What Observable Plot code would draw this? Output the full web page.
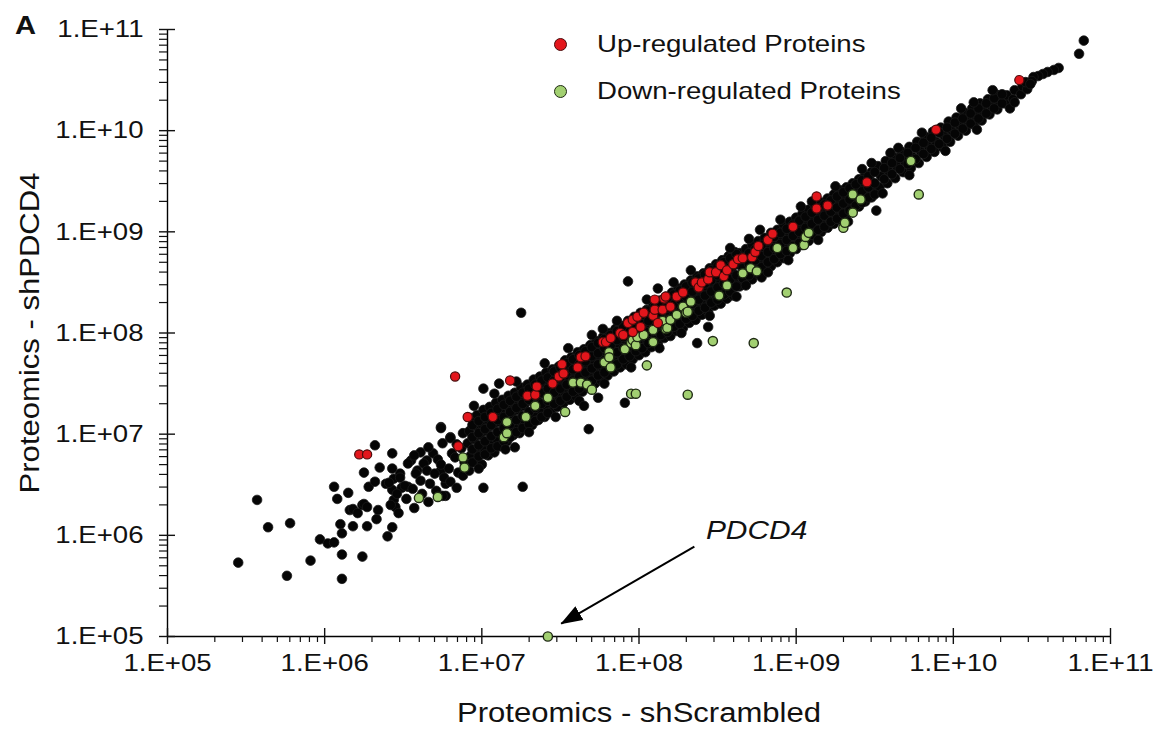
<!DOCTYPE html>
<html><head><meta charset="utf-8">
<script src="https://cdn.jsdelivr.net/npm/d3@7"></script>
<script src="https://cdn.jsdelivr.net/npm/@observablehq/plot@0.6"></script>
<style>
html,body{margin:0;padding:0;background:#fff;}
#wrap{position:relative;width:1164px;height:735px;font-family:"Liberation Sans",Arial,sans-serif;color:#111;}
.legrow{position:absolute;display:flex;align-items:center;height:24px;}
.sw{display:inline-block;border-radius:50%;box-sizing:border-box;}
</style></head>
<body><div id="wrap"></div>
<script>
// ---- Axis ticks ----
const decades = [1e5, 1e6, 1e7, 1e8, 1e9, 1e10, 1e11];
const tickLabels = ["1.E+05", "1.E+06", "1.E+07", "1.E+08", "1.E+09", "1.E+10", "1.E+11"];
const minorMultipliers = [2, 3, 4, 5, 6, 7, 8, 9];
const xTitle = "Proteomics - shScrambled";
const yTitle = "Proteomics - shPDCD4";
const panelLetter = "A";
const legendLabels = ["Up-regulated Proteins", "Down-regulated Proteins"];
const legendColors = ["#e3161c", "#a2d071"];
const legendStrokes = ["#4a0c0c", "#1f2a14"];

// ---- Data: [log10(shScrambled), log10(shPDCD4)] ----
const blackLowTail = [
[5.45,5.73],[5.57,6.35],[5.64,6.08],[5.76,5.60],[5.78,6.12],[5.91,5.75],[5.97,5.96],[6.02,5.92],[6.06,5.93],[6.06,6.48],
[6.08,6.36],[6.10,6.11],[6.11,6.02],[6.11,5.81],[6.11,5.57],[6.15,6.42],[6.16,6.25],[6.18,6.09],[6.18,6.26],[6.21,6.22],
[6.24,5.79],[6.24,6.30],[6.25,6.31],[6.25,6.62],[6.27,6.09],[6.27,6.28],[6.28,6.48],[6.32,6.89],[6.32,6.53],[6.33,6.16],
[6.34,6.25],[6.35,6.67],[6.39,6.51],[6.40,5.99],[6.43,6.08],[6.43,6.81],[6.43,6.45],[6.44,6.56],[6.44,6.35],[6.45,6.28],
[6.48,6.61],[6.49,6.47],[6.53,6.48],[6.55,6.74],[6.59,6.64],[6.61,6.82],[6.65,6.74],[6.69,6.81],[6.74,7.07],[6.74,6.64],
[6.77,6.51],[6.77,6.39],[6.80,6.97],[7.01,6.47],[7.01,7.45]
];
const blackBandLow = [
[6.42,6.30],[6.41,6.52],[6.43,6.66],[6.47,6.22],[6.46,6.41],[6.48,6.57],[6.52,6.36],[6.51,6.49],[6.53,6.71],
[6.57,6.27],[6.56,6.46],[6.58,6.61],[6.57,6.79],[6.62,6.41],[6.61,6.54],[6.63,6.71],[6.66,6.33],[6.67,6.51],[6.65,6.64],[6.66,6.87],
[6.71,6.44],[6.70,6.61],[6.72,6.75],[6.75,6.39],[6.76,6.57],[6.74,6.70],[6.75,6.91],[6.80,6.53],[6.79,6.66],[6.81,6.81],[6.80,6.96],
[6.84,6.47],[6.85,6.62],[6.83,6.77],[6.84,6.90],[6.88,6.59],[6.89,6.72],[6.87,6.86],[6.88,7.01],
[6.92,6.64],[6.93,6.79],[6.91,6.91],[6.92,7.03],[6.93,7.16],[6.96,6.73],[6.97,6.83],[6.95,6.95],[6.96,7.08],[6.97,7.19],
[7.00,6.70],[7.01,6.87],[6.99,6.99],[7.00,7.10],[7.01,7.24],[7.04,6.79],[7.05,6.92],[7.03,7.03],[7.04,7.14],[7.05,7.27],
[7.08,6.82],[7.09,6.96],[7.07,7.08],[7.08,7.20],[7.09,7.31],[7.12,6.88],[7.13,7.01],[7.11,7.12],[7.12,7.23],[7.13,7.34],
[7.16,6.93],[7.17,7.04],[7.15,7.16],[7.16,7.28],[7.17,7.38],[7.20,6.99],[7.21,7.09],[7.19,7.20],[7.20,7.31],[7.21,7.41],
[7.24,7.01],[7.25,7.12],[7.23,7.24],[7.24,7.36],[7.25,7.46],[7.28,7.06],[7.29,7.17],[7.27,7.28],[7.28,7.39],[7.29,7.49],
[7.32,7.09],[7.33,7.20],[7.31,7.33],[7.32,7.44],[7.33,7.54],[7.36,7.14],[7.37,7.25],[7.35,7.36],[7.36,7.47],[7.37,7.57],
[7.40,7.17],[7.41,7.28],[7.39,7.40],[7.40,7.51],[7.41,7.61]
];
const blackBandMid = [
[7.44,7.22],[7.45,7.33],[7.43,7.45],[7.44,7.55],[7.45,7.64],[7.48,7.27],[7.49,7.37],[7.47,7.49],[7.48,7.60],[7.49,7.67],
[7.52,7.31],[7.53,7.41],[7.51,7.53],[7.52,7.64],[7.53,7.73],[7.56,7.34],[7.57,7.45],[7.55,7.57],[7.56,7.67],[7.57,7.76],
[7.60,7.37],[7.61,7.49],[7.59,7.61],[7.60,7.72],[7.61,7.81],[7.64,7.42],[7.65,7.53],[7.63,7.65],[7.64,7.75],[7.65,7.84],
[7.68,7.46],[7.69,7.57],[7.67,7.69],[7.68,7.80],[7.69,7.88],[7.72,7.50],[7.73,7.61],[7.71,7.73],[7.72,7.84],[7.73,7.92],
[7.76,7.53],[7.77,7.65],[7.75,7.77],[7.76,7.88],[7.77,7.96],[7.80,7.58],[7.81,7.69],[7.79,7.81],[7.80,7.91],[7.81,8.00],
[7.84,7.62],[7.85,7.73],[7.83,7.85],[7.84,7.96],[7.85,8.04],[7.88,7.66],[7.89,7.77],[7.87,7.89],[7.88,7.99],[7.89,8.07],
[7.92,7.69],[7.93,7.81],[7.91,7.93],[7.92,8.04],[7.93,8.12],[7.96,7.74],[7.97,7.85],[7.95,7.97],[7.96,8.07],[7.97,8.16],
[8.00,7.78],[8.01,7.89],[7.99,8.01],[8.00,8.12],[8.01,8.20],[8.04,7.81],[8.05,7.93],[8.03,8.05],[8.04,8.15],[8.05,8.23],
[8.08,7.86],[8.09,7.97],[8.07,8.09],[8.08,8.20],[8.09,8.28],[8.12,7.89],[8.13,8.01],[8.11,8.13],[8.12,8.23],[8.13,8.32],
[8.16,7.95],[8.17,8.05],[8.15,8.17],[8.16,8.28],[8.17,8.36],[8.20,7.97],[8.21,8.09],[8.19,8.21],[8.20,8.31],[8.21,8.40],
[8.24,8.02],[8.25,8.13],[8.23,8.25],[8.24,8.36],[8.25,8.44],[8.28,8.05],[8.29,8.17],[8.27,8.29],[8.28,8.39],[8.29,8.48],
[8.32,8.10],[8.33,8.21],[8.31,8.33],[8.32,8.44],[8.33,8.52],[8.36,8.13],[8.37,8.25],[8.35,8.37],[8.36,8.47],[8.37,8.56],
[8.40,8.18],[8.41,8.29],[8.39,8.41],[8.40,8.52],[8.41,8.59],[8.44,8.21],[8.45,8.33],[8.43,8.45],[8.44,8.55],[8.45,8.64],
[8.48,8.27],[8.49,8.37],[8.47,8.49],[8.48,8.60],[8.49,8.68],[8.52,8.29],[8.53,8.41],[8.51,8.53],[8.52,8.63],[8.53,8.72],
[8.56,8.34],[8.57,8.45],[8.55,8.57],[8.56,8.68],[8.57,8.76],[8.60,8.37],[8.61,8.49],[8.59,8.61],[8.60,8.71],[8.61,8.80]
];
const blackBandHigh = [
[8.64,8.46],[8.65,8.57],[8.63,8.68],[8.64,8.79],[8.68,8.50],[8.69,8.61],[8.67,8.72],[8.68,8.83],
[8.72,8.53],[8.73,8.65],[8.71,8.75],[8.72,8.87],[8.76,8.58],[8.77,8.69],[8.75,8.80],[8.76,8.91],
[8.80,8.62],[8.81,8.73],[8.79,8.84],[8.80,8.94],[8.84,8.66],[8.85,8.77],[8.83,8.87],[8.84,8.99],
[8.88,8.70],[8.89,8.81],[8.87,8.92],[8.88,9.02],[8.92,8.74],[8.93,8.85],[8.91,8.95],[8.92,9.07],
[8.96,8.79],[8.97,8.89],[8.95,9.00],[8.96,9.10],[9.00,8.83],[9.01,8.93],[8.99,9.04],[9.00,9.14],
[9.04,8.87],[9.05,8.97],[9.03,9.08],[9.04,9.18],[9.08,8.91],[9.09,9.01],[9.07,9.12],[9.08,9.22],
[9.12,8.96],[9.13,9.05],[9.11,9.15],[9.12,9.25],[9.16,9.00],[9.17,9.09],[9.15,9.19],[9.16,9.29],
[9.20,9.04],[9.21,9.13],[9.19,9.23],[9.20,9.33],[9.24,9.08],[9.25,9.17],[9.23,9.27],[9.24,9.37],
[9.28,9.12],[9.29,9.21],[9.27,9.31],[9.28,9.41],[9.32,9.17],[9.33,9.26],[9.31,9.35],[9.32,9.44],
[9.36,9.21],[9.37,9.30],[9.35,9.39],[9.36,9.48],[9.40,9.25],[9.41,9.34],[9.39,9.43],[9.40,9.52],
[9.44,9.30],[9.45,9.38],[9.43,9.47],[9.44,9.56],[9.48,9.34],[9.49,9.42],[9.47,9.51],[9.48,9.59],
[9.53,9.44],[9.54,9.55],[9.52,9.65],[9.58,9.48],[9.59,9.60],[9.57,9.70],[9.63,9.53],[9.64,9.65],[9.62,9.74],
[9.68,9.59],[9.69,9.70],[9.67,9.79],[9.73,9.63],[9.74,9.74],[9.72,9.84],[9.78,9.68],[9.79,9.80],[9.77,9.89],
[9.83,9.74],[9.84,9.85],[9.82,9.94],[9.88,9.79],[9.89,9.89],[9.87,9.99],[9.93,9.84],[9.94,9.95],[9.92,10.03],
[9.98,9.89],[9.99,10.00],[9.97,10.09],[10.03,9.95],[10.04,10.05],[10.02,10.13],[10.08,10.00],[10.09,10.10],[10.07,10.18],
[10.13,10.06],[10.14,10.15],[10.12,10.22],[10.18,10.10],[10.19,10.19],[10.17,10.27],[10.23,10.16],[10.24,10.25],[10.22,10.31],
[10.28,10.21],[10.29,10.29],[10.27,10.36],[10.33,10.27],[10.34,10.35],[10.38,10.31],[10.39,10.40],[10.43,10.36],[10.44,10.44],
[10.47,10.41],[10.46,10.48]
];
const blackBandFill = [
[6.94,6.72],[6.94,6.85],[6.94,6.97],[6.94,7.09],[6.98,6.78],[6.98,6.89],[6.98,7.01],[6.98,7.13],
[7.02,6.80],[7.02,6.93],[7.02,7.05],[7.02,7.17],[7.06,6.86],[7.06,6.98],[7.06,7.09],[7.06,7.21],
[7.10,6.88],[7.10,7.02],[7.10,7.14],[7.10,7.25],[7.14,6.93],[7.14,7.06],[7.14,7.17],[7.14,7.29],
[7.18,6.97],[7.18,7.10],[7.18,7.22],[7.18,7.33],[7.22,7.02],[7.22,7.14],[7.22,7.26],[7.22,7.37],
[7.26,7.06],[7.26,7.18],[7.26,7.30],[7.26,7.41],[7.30,7.10],[7.30,7.22],[7.30,7.34],[7.30,7.45],
[7.34,7.13],[7.34,7.26],[7.34,7.38],[7.34,7.49],[7.38,7.17],[7.38,7.30],[7.38,7.41],[7.38,7.53],
[7.42,7.21],[7.42,7.33],[7.42,7.45],[7.42,7.56],
[7.46,7.30],[7.46,7.41],[7.46,7.53],[7.46,7.62],[7.50,7.33],[7.50,7.45],[7.50,7.56],[7.50,7.66],
[7.54,7.37],[7.54,7.49],[7.54,7.61],[7.54,7.70],[7.58,7.42],[7.58,7.53],[7.58,7.64],[7.58,7.74],
[7.62,7.45],[7.62,7.57],[7.62,7.69],[7.62,7.78],[7.66,7.50],[7.66,7.61],[7.66,7.72],[7.66,7.82],
[7.70,7.53],[7.70,7.65],[7.70,7.77],[7.70,7.86],[7.74,7.58],[7.74,7.69],[7.74,7.80],[7.74,7.90],
[7.78,7.61],[7.78,7.73],[7.78,7.85],[7.78,7.94],[7.82,7.66],[7.82,7.77],[7.82,7.88],[7.82,7.98],
[7.86,7.69],[7.86,7.81],[7.86,7.93],[7.86,8.02],[7.90,7.74],[7.90,7.85],[7.90,7.96],[7.90,8.06],
[7.94,7.77],[7.94,7.89],[7.94,8.01],[7.94,8.10],[7.98,7.82],[7.98,7.93],[7.98,8.04],[7.98,8.14],
[8.02,7.85],[8.02,7.97],[8.02,8.09],[8.02,8.18],[8.06,7.90],[8.06,8.01],[8.06,8.12],[8.06,8.22],
[8.10,7.93],[8.10,8.05],[8.10,8.17],[8.10,8.26],[8.14,7.98],[8.14,8.09],[8.14,8.20],[8.14,8.30],
[8.18,8.01],[8.18,8.13],[8.18,8.25],[8.18,8.34],[8.22,8.06],[8.22,8.17],[8.22,8.28],[8.22,8.38],
[8.26,8.09],[8.26,8.21],[8.26,8.33],[8.26,8.42],[8.30,8.14],[8.30,8.25],[8.30,8.36],[8.30,8.46],
[8.34,8.17],[8.34,8.29],[8.34,8.41],[8.34,8.50],[8.38,8.22],[8.38,8.33],[8.38,8.44],[8.38,8.54],
[8.42,8.25],[8.42,8.37],[8.42,8.49],[8.42,8.58],[8.46,8.30],[8.46,8.41],[8.46,8.52],[8.46,8.62],
[8.50,8.33],[8.50,8.45],[8.50,8.57],[8.50,8.66],[8.54,8.38],[8.54,8.49],[8.54,8.60],[8.54,8.70],
[8.58,8.41],[8.58,8.53],[8.58,8.65],[8.58,8.74],[8.62,8.46],[8.62,8.57],[8.62,8.68],[8.62,8.78],
[8.66,8.54],[8.66,8.64],[8.66,8.75],[8.70,8.57],[8.70,8.68],[8.70,8.79],[8.74,8.62],[8.74,8.72],[8.74,8.83],
[8.78,8.65],[8.78,8.76],[8.78,8.87],[8.82,8.70],[8.82,8.80],[8.82,8.91],[8.86,8.73],[8.86,8.84],[8.86,8.95],
[8.90,8.78],[8.90,8.88],[8.90,8.99],[8.94,8.81],[8.94,8.92],[8.94,9.03],[8.98,8.86],[8.98,8.96],[8.98,9.07],
[9.02,8.89],[9.02,9.00],[9.02,9.11],[9.06,8.94],[9.06,9.04],[9.06,9.15],[9.10,8.97],[9.10,9.08],[9.10,9.19],
[9.14,9.02],[9.14,9.12],[9.14,9.23],[9.18,9.05],[9.18,9.16],[9.18,9.27],[9.22,9.10],[9.22,9.20],[9.22,9.31],
[9.26,9.13],[9.26,9.24],[9.26,9.35],[9.30,9.18],[9.30,9.28],[9.30,9.39],[9.34,9.21],[9.34,9.32],[9.34,9.43],
[9.38,9.26],[9.38,9.36],[9.38,9.47],[9.42,9.29],[9.42,9.40],[9.42,9.51],[9.46,9.34],[9.46,9.44],[9.46,9.55],
[9.50,9.37],[9.50,9.48],[9.50,9.59],
[9.56,9.52],[9.56,9.63],[9.61,9.57],[9.61,9.68],[9.66,9.62],[9.66,9.73],[9.71,9.67],[9.71,9.78],
[9.76,9.72],[9.76,9.83],[9.81,9.77],[9.81,9.88],[9.86,9.82],[9.86,9.93],[9.91,9.87],[9.91,9.98],
[9.96,9.92],[9.96,10.03],[10.01,9.97],[10.01,10.08],[10.06,10.02],[10.06,10.12],[10.11,10.07],[10.11,10.17],
[10.16,10.12],[10.16,10.22],[10.21,10.17],[10.21,10.27],[10.26,10.22],[10.26,10.32],[10.31,10.27],[10.31,10.36]
];
const blackEdges = [
[6.95,7.28],[7.08,7.40],[7.22,7.52],[7.40,7.70],[7.55,7.85],[7.70,7.98],[7.86,8.12],[8.05,8.33],[8.22,8.50],[8.33,8.62],
[8.58,8.84],[8.70,8.93],[8.90,9.12],[9.10,9.30],[9.25,9.45],[9.42,9.62],[9.60,9.78],[9.80,9.98],[10.05,10.22],[10.25,10.40],
[6.98,6.66],[7.15,6.85],[7.30,7.02],[7.47,7.17],[7.62,7.33],[7.78,7.50],[7.95,7.66],[8.13,7.85],[8.27,8.00],[8.45,8.17],
[8.62,8.36],[8.78,8.55],[8.95,8.72],[9.14,8.92],[9.33,9.10],[9.55,9.38],[9.72,9.56],[9.95,9.80],[10.15,10.01],[10.36,10.22]
];
const blackOutliers = [
[7.11,7.50],[6.74,7.06],[7.26,6.48],[7.21,6.87],[7.25,8.20],[7.93,8.51],[8.12,8.44],[7.77,8.04],[7.68,7.05],[7.74,7.36],
[7.65,7.28],[7.91,7.31],[8.37,7.90],[8.44,8.06],[8.77,9.02],[9.03,9.25],[9.51,9.21],[9.48,9.68],[9.65,9.83],[8.82,8.60],
[8.68,8.47],[10.39,10.28],[10.13,10.28],[10.83,10.89],[10.80,10.76],[10.67,10.62],[10.64,10.60],[10.60,10.58],[10.57,10.56],
[10.54,10.54],[10.51,10.53],[10.50,10.49],[10.49,10.46]
];
const upRegulated = [
[6.22,6.80],[6.27,6.80],[6.83,7.57],[6.85,6.88],[6.91,7.17],[7.07,7.17],[7.18,7.53],[7.29,7.38],[7.34,7.39],[7.35,7.47],
[7.45,7.50],[7.49,7.57],[7.51,7.69],[7.52,7.60],[7.61,7.66],[7.63,7.76],[7.66,7.77],[7.77,7.91],[7.79,7.91],[7.82,7.95],
[7.88,8.00],[7.90,7.98],[7.93,8.10],[7.96,8.13],[7.96,8.01],[7.99,8.16],[8.01,8.06],[8.03,8.20],[8.09,8.17],[8.10,8.23],
[8.10,8.33],[8.12,8.10],[8.15,8.23],[8.16,8.34],[8.17,8.36],[8.20,8.26],[8.24,8.36],[8.28,8.40],[8.36,8.50],[8.38,8.45],
[8.40,8.50],[8.44,8.53],[8.45,8.60],[8.49,8.60],[8.52,8.67],[8.54,8.56],[8.56,8.62],[8.60,8.68],[8.63,8.73],[8.66,8.74],
[8.72,8.75],[8.74,8.80],[8.76,8.86],[8.82,8.92],[8.85,8.98],[8.98,9.05],[9.13,9.35],[9.13,9.23],[9.20,9.26],[9.45,9.49],
[9.89,10.01],[10.42,10.50]
];
const downRegulated = [
[6.60,6.37],[6.72,6.38],[6.88,6.77],[6.89,6.67],[7.14,6.97],[7.16,7.12],[7.16,7.01],[7.28,7.17],[7.34,7.28],[7.42,7.36],
[7.53,7.22],[7.58,7.51],[7.63,7.51],[7.67,7.49],[7.70,7.44],[7.78,7.71],[7.81,7.81],[7.81,7.76],[7.82,7.66],[7.91,7.84],
[7.95,7.90],[7.96,7.93],[7.98,7.88],[7.99,7.96],[8.03,7.98],[8.05,7.68],[8.09,8.03],[8.09,7.91],[8.15,8.12],[8.17,8.04],
[8.18,8.05],[8.20,8.13],[8.24,8.18],[8.28,8.26],[8.30,8.20],[8.31,8.21],[8.33,8.31],[7.95,7.40],[7.98,7.40],[8.31,7.39],
[8.47,7.92],[8.51,8.37],[8.56,8.47],[8.66,8.59],[8.71,8.64],[8.75,8.61],[8.73,7.90],[8.88,8.84],[8.94,8.40],[8.98,8.84],
[9.05,8.87],[9.06,8.95],[9.08,8.99],[9.30,9.04],[9.31,9.09],[9.36,9.37],[9.36,9.19],[9.41,9.32],[9.73,9.70],[9.78,9.37],
[7.42,5.00]
];
// ---- Annotation (PDCD4) ----
const annotText = ["PDCD4"];
const annotTextPos = [5.6e8, 1.12e6];
const arrowFrom = [2.25e8, 7.75e5];
const arrowTo = [3.2e7, 1.34e5];

const toPts = arr => arr.map(([lx, ly]) => ({x: 10 ** lx, y: 10 ** ly}));
const blackPts = [blackLowTail, blackBandLow, blackBandMid, blackBandHigh, blackBandFill, blackEdges, blackOutliers].flatMap(toPts);
const upPts = toPts(upRegulated);
const downPts = toPts(downRegulated);
const minorTicks = decades.slice(0, -1).flatMap(d => minorMultipliers.map(m => m * d));
const fmt = d => { const i = decades.indexOf(d); return i >= 0 ? tickLabels[i] : ""; };
const blank = () => "";

const plot = Plot.plot({
  width: 1164, height: 735,
  marginLeft: 167, marginRight: 54, marginTop: 29, marginBottom: 99,
  style: {fontFamily: "'Liberation Sans', Arial, sans-serif", background: "#fff", color: "#111"},
  x: {type: "log", domain: [1e5, 1e11], axis: null, label: null},
  y: {type: "log", domain: [1e5, 1e11], axis: null, label: null},
  marks: [
    Plot.ruleX([1e5], {stroke: "#000", strokeWidth: 1.4}),
    Plot.ruleY([1e5], {stroke: "#000", strokeWidth: 1.4}),
    Plot.axisX(decades, {anchor: "bottom", tickSize: 8, tickPadding: 9, tickFormat: fmt, fontSize: 24, label: null, strokeWidth: 1.4}),
    Plot.axisX(decades, {anchor: "bottom", tickSize: -8, tickFormat: blank, label: null, strokeWidth: 1.4}),
    Plot.axisX(minorTicks, {anchor: "bottom", tickSize: 6, tickFormat: blank, label: null, strokeWidth: 1.2}),
    Plot.axisY(decades, {anchor: "left", tickSize: 8, tickPadding: 16, tickFormat: fmt, fontSize: 24, label: null, strokeWidth: 1.4}),
    Plot.axisY(decades, {anchor: "left", tickSize: -8, tickFormat: blank, label: null, strokeWidth: 1.4}),
    Plot.axisY(minorTicks, {anchor: "left", tickSize: 8, tickFormat: blank, label: null, strokeWidth: 1.2}),
    Plot.text([xTitle], {text: d => d, frameAnchor: "bottom", dy: 77, fontSize: 27, fill: "#111", textAnchor: "middle", lineAnchor: "middle"}),
    Plot.text([yTitle], {text: d => d, frameAnchor: "left", dx: -137, rotate: -90, fontSize: 27, fill: "#111", textAnchor: "middle", lineAnchor: "middle"}),
    Plot.dot(blackPts, {x: "x", y: "y", r: 4.8, fill: "#050505", stroke: "#1a1a1a", strokeWidth: 0.8}),
    Plot.dot(downPts, {x: "x", y: "y", r: 4.6, fill: legendColors[1], stroke: legendStrokes[1], strokeWidth: 1.4}),
    Plot.dot(upPts, {x: "x", y: "y", r: 4.6, fill: legendColors[0], stroke: legendStrokes[0], strokeWidth: 1.2}),
    Plot.link([0], {x1: () => arrowFrom[0], y1: () => arrowFrom[1], x2: () => arrowTo[0], y2: () => arrowTo[1], stroke: "#000", strokeWidth: 2}),
    Plot.text(annotText, {text: d => d, x: () => annotTextPos[0], y: () => annotTextPos[1], fontSize: 26, fontStyle: "italic", fill: "#111"})
  ]
});

// Filled arrow head on the annotation link
const NS = "http://www.w3.org/2000/svg";
const defs = document.createElementNS(NS, "defs");
const marker = document.createElementNS(NS, "marker");
marker.setAttribute("id", "ahead");
marker.setAttribute("viewBox", "0 0 22 16");
marker.setAttribute("refX", "21");
marker.setAttribute("refY", "8");
marker.setAttribute("markerWidth", "22");
marker.setAttribute("markerHeight", "16");
marker.setAttribute("markerUnits", "userSpaceOnUse");
marker.setAttribute("orient", "auto");
const mp = document.createElementNS(NS, "path");
mp.setAttribute("d", "M0,0L22,8L0,16Z");
mp.setAttribute("fill", "#000");
marker.appendChild(mp); defs.appendChild(marker); plot.insertBefore(defs, plot.firstChild);
plot.querySelectorAll('g[aria-label="link"] path').forEach(q => q.setAttribute("marker-end", "url(#ahead)"));

// Drop the empty labels of unlabeled tick sets
plot.querySelectorAll("text").forEach(t => { if (t.textContent === "") t.remove(); });

const wrap = document.getElementById("wrap");
wrap.appendChild(plot);

// Horizontal stretch of SVG text to match the reference's wide lettering
plot.querySelectorAll("text").forEach(t => {
  const len = t.getComputedTextLength();
  if (len > 0) {
    t.setAttribute("textLength", (len * 1.15).toFixed(1));
    t.setAttribute("lengthAdjust", "spacingAndGlyphs");
  }
});

// Panel letter
const a = document.createElement("div");
a.textContent = panelLetter;
a.style.cssText = "position:absolute;left:15px;top:12px;font-size:26px;line-height:26px;font-weight:bold;transform:scaleX(1.12);transform-origin:left center;";
wrap.appendChild(a);

// Legend
const legendTops = [32, 79];
legendLabels.forEach((lab, i) => {
  const row = document.createElement("div");
  row.className = "legrow";
  row.style.left = "554px";
  row.style.top = legendTops[i] + "px";
  const sw = document.createElement("span");
  sw.className = "sw";
  sw.style.width = "13px"; sw.style.height = "13px";
  sw.style.background = legendColors[i];
  sw.style.border = "1.5px solid " + legendStrokes[i];
  const tx = document.createElement("span");
  tx.textContent = lab;
  tx.style.cssText = "font-size:24px;line-height:24px;margin-left:30px;display:inline-block;transform:scaleX(1.15);transform-origin:left center;white-space:nowrap;color:#111;";
  row.appendChild(sw); row.appendChild(tx);
  wrap.appendChild(row);
});
</script>
</body></html>
